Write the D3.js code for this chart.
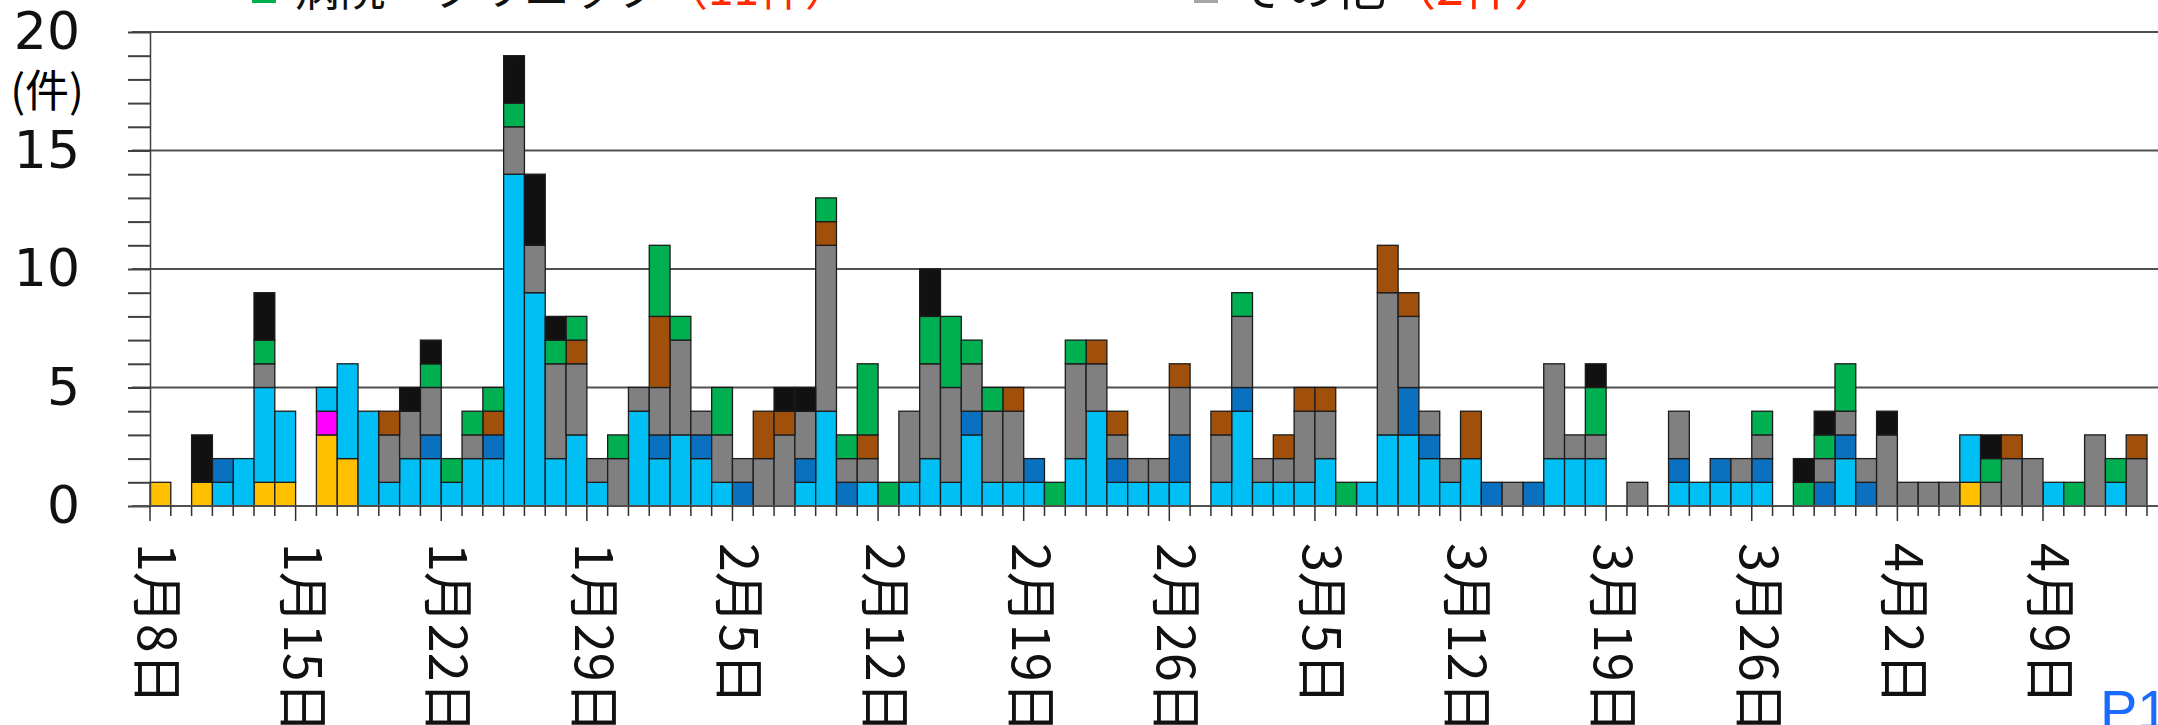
<!DOCTYPE html>
<html>
<head>
<meta charset="utf-8">
<script src="https://cdn.jsdelivr.net/npm/d3@7"></script>
<style>
  body { margin: 0; background: #fff; }
</style>
</head>
<body>
<div id="G1"></div>
<script>
// categorie (giorni) e etichette
var startDay = new Date(2021, 0, 8),
    endDay = new Date(2021, 3, 14);
var tickLabels = ["1月8日", "1月15日", "1月22日", "1月29日", "2月5日", "2月12日", "2月19日",
                  "2月26日", "3月5日", "3月12日", "3月19日", "3月26日", "4月2日", "4月9日"];
var yTickLabels = [0, 5, 10, 15, 20];

// series (one value per day, Jan 8 -> Apr 13)
var yellow = [1,0,1,0,0,1,1,0,3,2, 0,0,0,0,0,0,0,0,0,0, 0,0,0,0,0,0,0,0,0,0, 0,0,0,0,0,0,0,0,0,0,
              0,0,0,0,0,0,0,0,0,0, 0,0,0,0,0,0,0,0,0,0, 0,0,0,0,0,0,0,0,0,0, 0,0,0,0,0,0,0,0,0,0,
              0,0,0,0,0,0,0,1,0,0, 0,0,0,0,0,0];
var magenta = [0,0,0,0,0,0,0,0,1,0, 0,0,0,0,0,0,0,0,0,0, 0,0,0,0,0,0,0,0,0,0, 0,0,0,0,0,0,0,0,0,0,
               0,0,0,0,0,0,0,0,0,0, 0,0,0,0,0,0,0,0,0,0, 0,0,0,0,0,0,0,0,0,0, 0,0,0,0,0,0,0,0,0,0,
               0,0,0,0,0,0,0,0,0,0, 0,0,0,0,0,0];
var lightBlue = [0,0,0,1,2,4,3,0,1,4, 4,1,2,2,1,2,2,14,9,2, 3,1,0,4,2,3,2,1,0,0, 0,1,4,0,1,0,1,2,1,3,
                 1,1,1,0,2,4,1,1,1,1, 0,1,4,1,1,1,2,0,1,3, 3,2,1,2,0,0,0,2,2,2, 0,0,0,1,1,1,1,1,0,0,
                 0,2,0,0,0,0,0,2,0,0, 0,1,0,0,1,0];
var darkBlue = [0,0,0,1,0,0,0,0,0,0, 0,0,0,1,0,0,1,0,0,0, 0,0,0,0,1,0,1,0,1,0, 0,1,0,1,0,0,0,0,0,1,
                0,0,1,0,0,0,1,0,0,2, 0,0,1,0,0,0,0,0,0,0, 2,1,0,0,1,0,1,0,0,0, 0,0,0,1,0,1,0,1,0,0,
                1,1,1,0,0,0,0,0,0,0, 0,0,0,0,0,0];
var gray = [0,0,0,0,0,1,0,0,0,0, 0,2,2,2,0,1,0,2,2,4, 3,1,2,1,2,4,1,2,1,2, 3,2,7,1,1,0,3,4,4,2,
            3,3,0,0,4,2,1,1,1,2, 0,2,3,1,1,3,2,0,0,6, 3,1,1,0,0,1,0,4,1,1, 0,1,0,2,0,0,1,1,0,0,
            1,1,1,3,1,1,1,0,1,2, 2,0,0,3,0,2];
var brown = [0,0,0,0,0,0,0,0,0,0, 0,1,0,0,0,0,1,0,0,0, 1,0,0,0,3,0,0,0,0,2, 1,0,1,0,1,0,0,0,0,0,
             0,1,0,0,0,1,1,0,0,1, 0,1,0,0,1,1,1,0,0,2, 1,0,0,2,0,0,0,0,0,0, 0,0,0,0,0,0,0,0,0,0,
             0,0,0,0,0,0,0,0,0,1, 0,0,0,0,0,1];
var green = [0,0,0,0,0,1,0,0,0,0, 0,0,0,1,1,1,1,1,0,1, 1,0,1,0,3,1,0,2,0,0, 0,0,1,1,3,1,0,2,3,1,
             1,0,0,1,1,0,0,0,0,0, 0,0,1,0,0,0,0,1,0,0, 0,0,0,0,0,0,0,0,0,2, 0,0,0,0,0,0,0,1,0,1,
             1,2,0,0,0,0,0,0,1,0, 0,0,1,0,1,0];
var black = [0,0,2,0,0,2,0,0,0,0, 0,0,1,1,0,0,0,2,3,1, 0,0,0,0,0,0,0,0,0,0, 1,1,0,0,0,0,0,2,0,0,
             0,0,0,0,0,0,0,0,0,0, 0,0,0,0,0,0,0,0,0,0, 0,0,0,0,0,0,0,0,0,1, 0,0,0,0,0,0,0,0,0,1,
             1,0,0,1,0,0,0,0,1,0, 0,0,0,0,0,0];

var keys = ["yellow", "magenta", "lightBlue", "darkBlue", "gray", "brown", "green", "black"];
var colors = {yellow: "#ffc000", magenta: "#ff00ff", lightBlue: "#00bff5", darkBlue: "#0a70c0",
              gray: "#808080", brown: "#a0500a", green: "#00b050", black: "#111111"};

// margini e dimensioni
var margin = {top: 32, right: 11, bottom: 219, left: 150},
    width = 2158 - margin.left - margin.right,
    height = 725 - margin.top - margin.bottom;

var svgRoot = d3.select("#G1")
  .append("svg")
    .attr("width", 2158)
    .attr("height", 725)
    .style("display", "block");
var svg = svgRoot.append("g")
    .attr("transform", "translate(" + margin.left + "," + margin.top + ")");

var days = d3.timeDay.range(startDay, endDay);
var table = days.map(function(d, i) {
  var row = {day: i};
  row.yellow = yellow[i]; row.magenta = magenta[i]; row.lightBlue = lightBlue[i];
  row.darkBlue = darkBlue[i]; row.gray = gray[i]; row.brown = brown[i];
  row.green = green[i]; row.black = black[i];
  return row;
});

var x = d3.scaleBand()
  .domain(d3.range(days.length))
  .range([0, width])
  .padding(0);
var y = d3.scaleLinear()
  .domain([0, 20])
  .range([height, 0]);

// griglia orizzontale
svg.selectAll(".grid")
  .data([5, 10, 15, 20])
  .enter()
  .append("line")
    .attr("x1", -18)
    .attr("x2", width + margin.right)
    .attr("y1", function(d) { return y(d); })
    .attr("y2", function(d) { return y(d); })
    .style("stroke", "#505050")
    .style("stroke-width", 2);

// barre impilate
var layers = d3.stack().keys(keys)(table);
svg.selectAll(".layer")
  .data(layers)
  .enter()
  .append("g")
    .style("fill", function(d) { return colors[d.key]; })
  .selectAll("rect")
  .data(function(d) { return d.filter(function(s) { return s[1] - s[0] > 0; }); })
  .enter()
  .append("rect")
    .attr("x", function(d) { return x(d.data.day); })
    .attr("y", function(d) { return y(d[1]); })
    .attr("width", x.bandwidth())
    .attr("height", function(d) { return y(d[0]) - y(d[1]); })
    .style("stroke", "#1c1c1c")
    .style("stroke-width", 1.3);

// asse Y
var yAxis = svg.append("g")
  .call(d3.axisLeft(y)
    .tickValues(d3.range(0, 21))
    .tickSize(22)
    .tickSizeOuter(0)
    .tickPadding(48)
    .tickFormat(function(d) { return yTickLabels.indexOf(d) >= 0 ? d : ""; }));
yAxis.selectAll("line").style("stroke", "#404040").style("stroke-width", 2);
yAxis.select(".domain").style("stroke", "#404040").style("stroke-width", 1.5);
yAxis.selectAll("text")
  .style("font-family", "DejaVu Sans")
  .style("font-size", "52px")
  .style("fill", "#111");

svg.append("text")
  .attr("x", 47 - margin.left)
  .attr("y", 88 - margin.top)
  .attr("text-anchor", "middle")
  .attr("dominant-baseline", "central")
  .style("font-family", "Noto Sans CJK JP")
  .style("font-size", "44px")
  .text("(件)");

// asse X
svg.append("line")
  .attr("x1", -18)
  .attr("x2", width + margin.right)
  .attr("y1", height)
  .attr("y2", height)
  .style("stroke", "#505050")
  .style("stroke-width", 2);

svg.selectAll(".dayTick")
  .data(d3.range(days.length + 1))
  .enter()
  .append("line")
    .attr("x1", function(d) { return d < days.length ? x(d) : width; })
    .attr("x2", function(d) { return d < days.length ? x(d) : width; })
    .attr("y1", height)
    .attr("y2", function(d) { return height + (d % 7 === 0 ? 15 : 10); })
    .style("stroke", "#303030")
    .style("stroke-width", 1.5);

var xAxis = svg.append("g")
  .attr("transform", "translate(0," + height + ")")
  .call(d3.axisBottom(x)
    .tickValues(d3.range(0, days.length, 7))
    .tickSize(0)
    .tickFormat(function(d) { return tickLabels[d / 7]; }));
xAxis.select(".domain").remove();
xAxis.selectAll("text")
  .attr("y", 0)
  .attr("dy", null)
  .attr("transform", "translate(0,37) rotate(90)")
  .attr("dominant-baseline", "central")
  .style("text-anchor", "start")
  .style("font-family", "Noto Sans CJK JP")
  .style("font-size", "52px")
  .style("fill", "#111");

// legenda (tagliata in alto)
var legend = [
  {x: 252, size: 46, color: "#00b050", label: "病院・クリニック", count: "（11件）"},
  {x: 1194, size: 50, color: "#a6a6a6", label: "その他", count: "（2件）"}
];
legend.forEach(function(l) {
  svgRoot.append("rect")
    .attr("x", l.x)
    .attr("y", -30)
    .attr("width", 24)
    .attr("height", 33)
    .style("fill", l.color);
  var t = svgRoot.append("text")
    .attr("x", l.x + 42)
    .attr("y", 5)
    .style("font-family", "Noto Sans CJK JP")
    .style("font-size", l.size + "px")
    .style("fill", "#111")
    .text(l.label);
  t.append("tspan")
    .style("fill", "#ff2a00")
    .text(l.count);
});

// numero pagina
svgRoot.append("text")
  .attr("x", 2100)
  .attr("y", 729)
  .style("font-family", "Liberation Sans")
  .style("font-size", "56px")
  .style("fill", "#1a6cff")
  .text("P1");
</script>
</body>
</html>
